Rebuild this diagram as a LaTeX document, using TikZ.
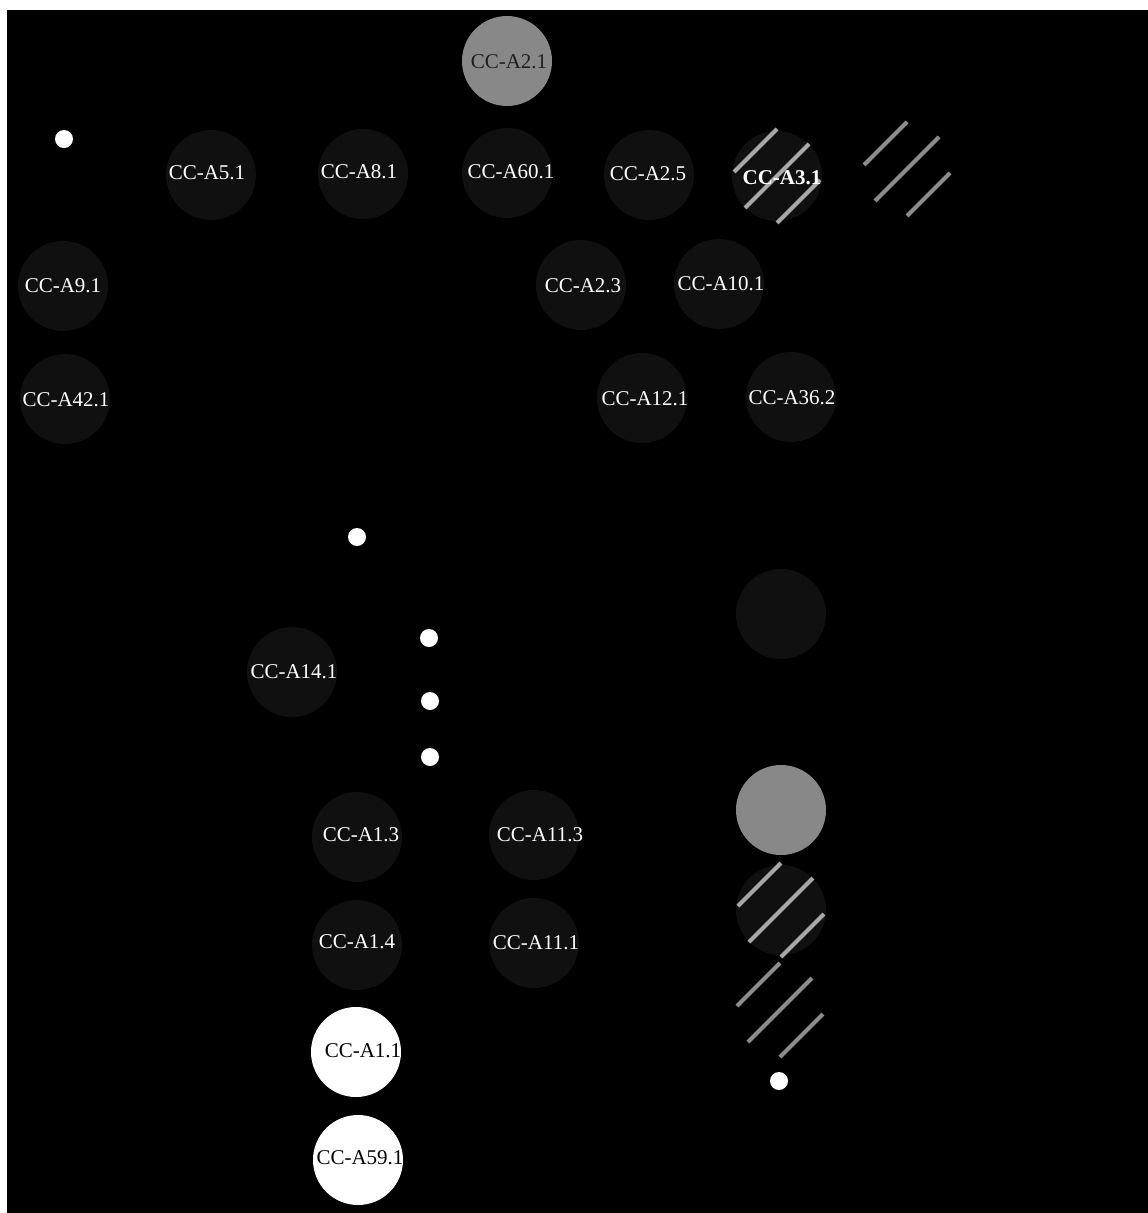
\documentclass[tikz,border=0pt]{standalone}
\usepackage{fontspec}
\setmainfont{Liberation Serif}
\usetikzlibrary{calc}
\definecolor{nodedark}{RGB}{16,16,16}
\definecolor{nodegray}{RGB}{136,136,136}
\definecolor{hatchlight}{RGB}{168,168,168}
\definecolor{hatchdim}{RGB}{140,140,140}
\definecolor{labeldark}{RGB}{30,30,30}
\tikzset{
  darknode/.style={circle, fill=nodedark, minimum size=90pt, inner sep=0pt},
  graynode/.style={circle, fill=nodegray, minimum size=90pt, inner sep=0pt},
  whitenode/.style={circle, fill=white, minimum size=90pt, inner sep=0pt},
  ghostnode/.style={circle, fill=black, minimum size=90pt, inner sep=0pt},
  dotnode/.style={circle, fill=white, minimum size=18pt, inner sep=0pt},
  lbl/.style={text=white, inner sep=0pt, font=\fontsize{21}{25}\selectfont},
  lbldark/.style={lbl, text=black},
  hatchline/.style={line width=4pt},
}
\newcommand\hatchnode[2]{%
  \draw[hatchline, #2] ($(#1)+(2,-2)+(-23.5-21.5,-23.5+21.5)$) -- ($(#1)+(2,-2)+(-23.5+21.5,-23.5-21.5)$);
  \draw[hatchline, #2] ($(#1)+(-32,32)$) -- ($(#1)+(32,-32)$);
  \draw[hatchline, #2] ($(#1)+(-2,2)+(23.5-21.5,23.5+21.5)$) -- ($(#1)+(-2,2)+(23.5+21.5,23.5-21.5)$);}
\begin{document}
\begin{tikzpicture}[x=1pt,y=-1pt]
\useasboundingbox (0,0) rectangle (1148,1213);
\fill[white] (0,0) rectangle (1148,1213);
\fill[black] (7,10) rectangle (1148,1213);

% circles
\node[graynode] (a21) at (507,61) {};
\node[dotnode] (d1) at (64,139) {};
\node[darknode] (a51) at (211,175) {};
\node[darknode] (a81) at (363,174) {};
\node[darknode] (a601) at (507,173) {};
\node[darknode] (a25) at (649,175) {};
\node[darknode] (a31) at (777,176) {};
\node[ghostnode] (g1) at (907,169) {};
\node[darknode] (a91) at (63,286) {};
\node[darknode] (a421) at (65,399) {};
\node[darknode] (a23) at (581,285) {};
\node[darknode] (a101) at (719,284) {};
\node[darknode] (a121) at (642,398) {};
\node[darknode] (a362) at (791,397) {};
\node[dotnode] (d2) at (357,537) {};
\node[darknode] (u1) at (781,614) {};
\node[darknode] (a141) at (292,672) {};
\node[dotnode] (d3) at (429,638) {};
\node[dotnode] (d4) at (430,701) {};
\node[dotnode] (d5) at (430,757) {};
\node[darknode] (a13) at (357,837) {};
\node[darknode] (a113) at (534,835) {};
\node[darknode] (a14) at (357,945) {};
\node[darknode] (a111) at (534,943) {};
\node[whitenode] (a11) at (356,1052) {};
\node[whitenode] (a591) at (358,1160) {};
\node[graynode] (u2) at (781,810) {};
\node[darknode] (u3) at (781,910) {};
\node[ghostnode] (g2) at (780,1010) {};
\node[dotnode] (d6) at (779,1081) {};

% hatching
\hatchnode{a31}{hatchlight}
\hatchnode{g1}{hatchdim}
\hatchnode{u3}{hatchlight}
\hatchnode{g2}{hatchdim}

% labels
\node[lbldark, text=labeldark] (t21) at (509,62) {CC-A2.1};
\node[lbl] (t51) at (207,173) {CC-A5.1};
\node[lbl] (t81) at (359,172) {CC-A8.1};
\node[lbl] (t601) at (511,172) {CC-A60.1};
\node[lbl] (t25) at (648,174) {CC-A2.5};
\node[lbl, font=\fontsize{21}{25}\selectfont\bfseries] (t31) at (782,178) {CC-A3.1};
\node[lbl] (t91) at (63,286) {CC-A9.1};
\node[lbl] (t421) at (66,400) {CC-A42.1};
\node[lbl] (t23) at (583,286) {CC-A2.3};
\node[lbl] (t101) at (721,284) {CC-A10.1};
\node[lbl] (t121) at (645,399) {CC-A12.1};
\node[lbl] (t362) at (792,398) {CC-A36.2};
\node[lbl] (t141) at (294,672) {CC-A14.1};
\node[lbl] (t13) at (361,835) {CC-A1.3};
\node[lbl] (t113) at (540,835) {CC-A11.3};
\node[lbl] (t14) at (357,942) {CC-A1.4};
\node[lbl] (t111) at (536,943) {CC-A11.1};
\node[lbldark] (t11) at (363,1051) {CC-A1.1};
\node[lbldark] (t591) at (360,1158) {CC-A59.1};
\end{tikzpicture}
\end{document}
